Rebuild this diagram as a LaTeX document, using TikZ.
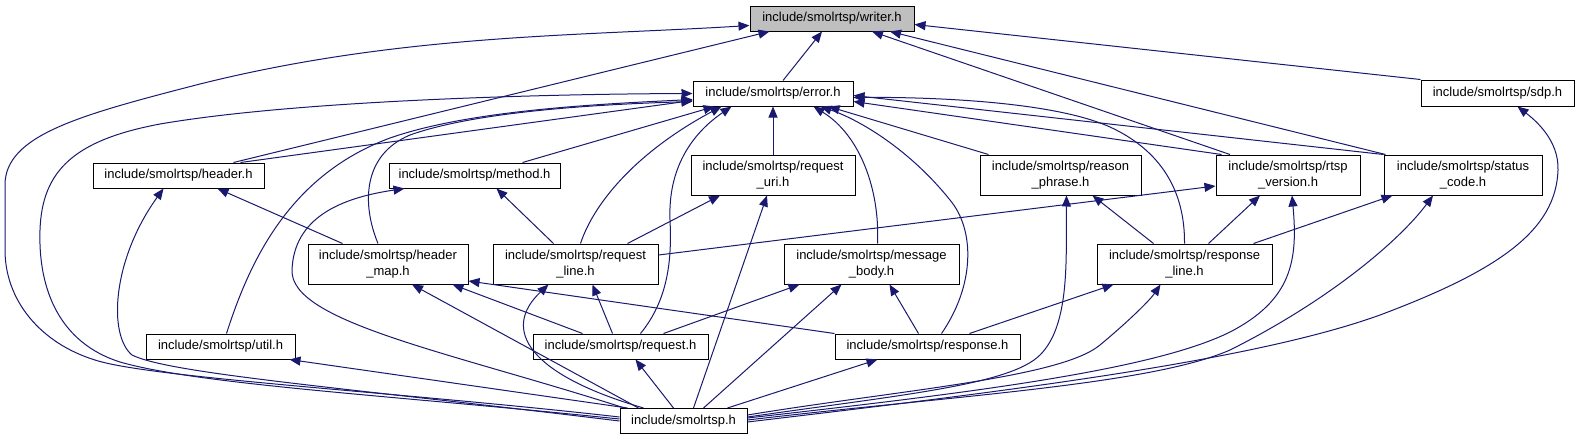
\documentclass[tikz,border=0pt]{standalone}
\usepackage{fontspec}
\setmainfont{Liberation Sans}
\usetikzlibrary{arrows.meta,calc}
\definecolor{edgeblue}{RGB}{25,25,112}
\definecolor{rootgray}{RGB}{191,191,191}
\begin{document}
\begin{tikzpicture}[x=1pt,y=-1pt,
  file/.style={draw=black, line width=1pt, fill=white, inner sep=0pt, align=center,
    font=\fontsize{13}{15.5}\selectfont},
  edge/.style={draw=edgeblue, line width=1pt, -{Triangle[length=11pt,width=9pt]}},
]
\useasboundingbox[fill=white] (0,0) rectangle (1579,440);

% nodes
\node[file, fill=rootgray, minimum width=164pt, minimum height=25pt] (writer) at (832,18.5) {include/smolrtsp/writer.h};
\node[file, minimum width=160pt, minimum height=25pt] (error) at (773,93.5) {include/smolrtsp/error.h};
\node[file, minimum width=153pt, minimum height=26pt] (sdp) at (1497.5,93) {include/smolrtsp/sdp.h};
\node[file, minimum width=171pt, minimum height=25pt] (header) at (178.5,175.5) {include/smolrtsp/header.h};
\node[file, minimum width=171pt, minimum height=25pt] (method) at (474.5,175.5) {include/smolrtsp/method.h};
\node[file, minimum width=164pt, minimum height=40pt] (requesturi) at (773,175) {include/smolrtsp/request\\\_uri.h};
\node[file, minimum width=161pt, minimum height=40pt] (reasonphrase) at (1060.5,175) {include/smolrtsp/reason\\\_phrase.h};
\node[file, minimum width=144pt, minimum height=40pt] (rtspversion) at (1288,175) {include/smolrtsp/rtsp\\\_version.h};
\node[file, minimum width=158pt, minimum height=40pt] (statuscode) at (1463,175) {include/smolrtsp/status\\\_code.h};
\node[file, minimum width=160pt, minimum height=40pt] (headermap) at (388,264) {include/smolrtsp/header\\\_map.h};
\node[file, minimum width=165pt, minimum height=40pt] (requestline) at (575.5,264) {include/smolrtsp/request\\\_line.h};
\node[file, minimum width=175pt, minimum height=40pt] (messagebody) at (871.5,264) {include/smolrtsp/message\\\_body.h};
\node[file, minimum width=175pt, minimum height=40pt] (responseline) at (1184.5,264) {include/smolrtsp/response\\\_line.h};
\node[file, minimum width=149pt, minimum height=25pt] (util) at (220.5,346.5) {include/smolrtsp/util.h};
\node[file, minimum width=175pt, minimum height=25pt] (request) at (620.5,346.5) {include/smolrtsp/request.h};
\node[file, minimum width=185pt, minimum height=25pt] (response) at (927.5,346.5) {include/smolrtsp/response.h};
\node[file, minimum width=127pt, minimum height=25pt] (smolrtsp) at (683.5,421) {include/smolrtsp.h};

% edges to writer.h
\draw[edge] ($(smolrtsp.west)+(0,-4)$) .. controls (400,392) and (150,378) .. (95,360) .. controls (40,343) and (5,300) .. (5,250) -- (5,185) .. controls (5,135) and (80,115) .. (200,84) .. controls (400,34) and (580,36) .. ($(writer.west)+(0,7)$);
\draw[edge] ($(header.north)+(55,0)$) -- ($(writer.south west)+(20,0)$);
\draw[edge] ($(error.north)+(10,0)$) -- ($(writer.south)+(-10,0)$);
\draw[edge] ($(rtspversion.north)+(-58,0)$) -- ($(writer.south)+(40,0)$);
\draw[edge] ($(statuscode.north west)+(2,0)$) -- ($(writer.south)+(58,0)$);
\draw[edge] (sdp.north west) -- ($(writer.east)+(0,6)$);

% edges to error.h
\draw[edge] ($(smolrtsp.west)+(0,-2)$) .. controls (400,396) and (200,385) .. (120,362) .. controls (60,343) and (38,290) .. (40,230) .. controls (42,170) and (75,140) .. (160,124) .. controls (300,100) and (550,94) .. (error.west);
\draw[edge] ($(header.north)+(62,0)$) -- ($(error.west)+(0,7)$);
\draw[edge] ($(util.north)+(6,0)$) .. controls (250,260) and (290,175) .. (390,138) .. controls (470,110) and (600,104) .. ($(error.west)+(0,6)$);
\draw[edge] ($(headermap.north)+(-10,0)$) .. controls (362,205) and (362,155) .. (410,135) .. controls (480,110) and (610,104) .. ($(error.west)+(0,8)$);
\draw[edge] ($(method.north)+(48,0)$) -- ($(error.south west)+(22,0)$);
\draw[edge] ($(requestline.north)+(5,0)$) .. controls (595,200) and (640,150) .. ($(error.south west)+(29,0)$);
\draw[edge] ($(request.north)+(20,0)$) .. controls (668,300) and (672,260) .. (670,220) .. controls (668,170) and (690,135) .. ($(error.south west)+(39,0)$);
\draw[edge] (requesturi.north) -- (error.south);
\draw[edge] ($(messagebody.north)+(6,0)$) .. controls (880,190) and (860,135) .. ($(error.south east)+(-40,0)$);
\draw[edge] ($(response.north)+(14,0)$) .. controls (975,285) and (975,230) .. (950,200) .. controls (910,150) and (860,120) .. ($(error.south east)+(-33,0)$);
\draw[edge] ($(reasonphrase.north west)+(9,0)$) -- ($(error.south east)+(-25,0)$);
\draw[edge] ($(rtspversion.north west)+(6,0)$) -- ($(error.east)+(0,8)$);
\draw[edge] (statuscode.north west) -- ($(error.east)+(0,2)$);
\draw[edge] (responseline.north) .. controls (1185,190) and (1160,150) .. (1110,127) .. controls (1050,100) and (920,97) .. ($(error.east)+(0,4)$);

% edges to header.h
\draw[edge] (smolrtsp.west) .. controls (350,388) and (170,374) .. (132,355) .. controls (108,335) and (112,260) .. ($(header.south)+(-15,0)$);
\draw[edge] ($(headermap.north west)+(35,0)$) -- ($(header.south)+(39,0)$);

% edges to method.h
\draw[edge] ($(smolrtsp.north west)+(5,0)$) .. controls (450,352) and (290,322) .. (292,270) .. controls (294,218) and (340,198) .. ($(method.south)+(-70,0)$);
\draw[edge] ($(requestline.north)+(-22,0)$) -- ($(method.south)+(22,0)$);

% edges to request_uri.h
\draw[edge] ($(requestline.north)+(52,0)$) -- ($(requesturi.south)+(-53,0)$);
\draw[edge] ($(smolrtsp.north)+(10,0)$) -- ($(requesturi.south)+(-6,0)$);

% edges to reason_phrase.h
\draw[edge] ($(smolrtsp.east)+(0,-4)$) .. controls (900,395) and (1010,385) .. (1040,355) .. controls (1070,325) and (1066,260) .. ($(reasonphrase.south)+(6,0)$);
\draw[edge] ($(responseline.north)+(-31,0)$) -- ($(reasonphrase.south)+(32,0)$);

% edges to rtsp_version.h
\draw[edge] ($(requestline.east)+(0,-9)$) -- ($(rtspversion.west)+(0,11)$);
\draw[edge] ($(responseline.north)+(24,0)$) -- ($(rtspversion.south)+(-28,0)$);
\draw[edge] ($(smolrtsp.east)+(0,-3)$) .. controls (950,395) and (1150,372) .. (1230,332) .. controls (1292,300) and (1298,260) .. ($(rtspversion.south)+(4,0)$);

% edges to status_code.h
\draw[edge] ($(responseline.north east)+(-19,0)$) -- ($(statuscode.south west)+(9,0)$);
\draw[edge] ($(smolrtsp.east)+(0,-1)$) .. controls (950,396) and (1150,385) .. (1230,350) .. controls (1330,300) and (1400,240) .. ($(statuscode.south)+(-30,0)$);

% edge to sdp.h
\draw[edge] ($(smolrtsp.east)+(0,1)$) .. controls (1000,392) and (1250,362) .. (1380,315) .. controls (1500,270) and (1556,230) .. (1558,170) .. controls (1559,140) and (1535,120) .. ($(sdp.south)+(20,0)$);

% edges to header_map.h
\draw[edge] ($(smolrtsp.north)+(-45,0)$) -- ($(headermap.south)+(24,0)$);
\draw[edge] ($(request.north)+(-38,0)$) -- ($(headermap.south east)+(-16,0)$);
\draw[edge] (response.north west) -- ($(headermap.east)+(0,17)$);

% edges to request_line.h
\draw[edge] ($(request.north)+(-8,0)$) -- ($(requestline.south)+(17,0)$);
\draw[edge] ($(smolrtsp.north)+(-40,0)$) .. controls (530,375) and (500,330) .. ($(requestline.south)+(-27,0)$);

% edges to message_body.h
\draw[edge] ($(request.north east)+(-45,0)$) -- ($(messagebody.south west)+(16,0)$);
\draw[edge] ($(smolrtsp.north)+(20,0)$) -- ($(messagebody.south)+(-30,0)$);
\draw[edge] ($(response.north)+(-9,0)$) -- ($(messagebody.south)+(18,0)$);

% edges to response_line.h
\draw[edge] ($(response.north)+(42,0)$) -- ($(responseline.south west)+(17,0)$);
\draw[edge] ($(smolrtsp.east)+(0,-6)$) .. controls (900,390) and (1060,378) .. (1100,345) .. controls (1130,320) and (1150,300) .. ($(responseline.south)+(-24,0)$);

% edges to util.h, request.h, response.h
\draw[edge] ($(smolrtsp.north west)+(8,0)$) -- ($(util.south east)+(-6,0)$);
\draw[edge] ($(smolrtsp.north)+(-10,0)$) -- ($(request.south)+(15,0)$);
\draw[edge] ($(smolrtsp.north east)+(-20,0)$) -- ($(response.south)+(-50,0)$);
\end{tikzpicture}
\end{document}
